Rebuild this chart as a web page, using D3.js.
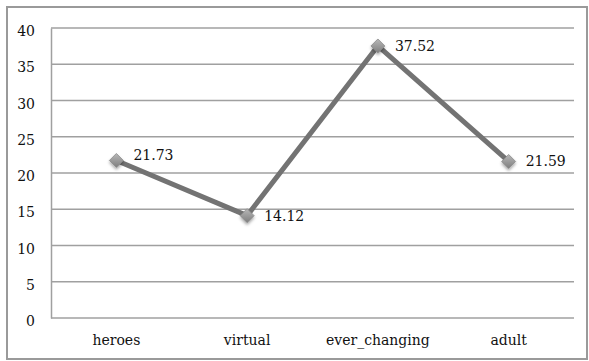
<!DOCTYPE html>
<html>
<head>
<meta charset="utf-8">
<script src="https://cdn.jsdelivr.net/npm/d3@7"></script>
<style>
  html, body { margin: 0; padding: 0; background: #fff; }
  svg { display: block; }
  text { font-family: "DejaVu Serif", "Liberation Serif", serif; fill: #111; }
</style>
</head>
<body>
<svg id="chart" width="589" height="361"></svg>
<script>
// Chart data
const categories = ["heroes", "virtual", "ever_changing", "adult"];
const values = [21.73, 14.12, 37.52, 21.59];
const yTicks = [0, 5, 10, 15, 20, 25, 30, 35, 40];

const W = 589, H = 361;
const margin = { left: 51, right: 15, top: 28, bottom: 43 };
const fontSize = 14;

const svg = d3.select("#chart");

// Outer frame
svg.append("rect")
  .attr("x", 7).attr("y", 7)
  .attr("width", W - 9).attr("height", H - 9)
  .attr("fill", "#fff")
  .attr("stroke", "#9a9a9a")
  .attr("stroke-width", 2);

const x = d3.scaleBand()
  .domain(categories)
  .range([margin.left, W - margin.right]);

const y = d3.scaleLinear()
  .domain([0, 40])
  .range([H - margin.bottom, margin.top]);

const defs = svg.append("defs");
const grad = defs.append("linearGradient")
  .attr("id", "markerFill")
  .attr("x1", "0").attr("y1", "0").attr("x2", "0").attr("y2", "1");
grad.append("stop").attr("offset", "0%").attr("stop-color", "#b8b8b8");
grad.append("stop").attr("offset", "100%").attr("stop-color", "#7e7e7e");

const shadow = defs.append("filter").attr("id", "softShadow")
  .attr("x", "-50%").attr("y", "-50%").attr("width", "200%").attr("height", "200%");
shadow.append("feDropShadow")
  .attr("dx", 0).attr("dy", 2).attr("stdDeviation", 1.5)
  .attr("flood-color", "#000").attr("flood-opacity", 0.35);

// Horizontal gridlines
svg.append("g")
  .selectAll("line")
  .data(yTicks)
  .join("line")
  .attr("x1", margin.left).attr("x2", W - margin.right)
  .attr("y1", d => y(d)).attr("y2", d => y(d))
  .attr("stroke", "#a0a0a0")
  .attr("stroke-width", 1.5);

// Y axis
const yAxis = svg.append("g")
  .attr("transform", `translate(${margin.left},0)`)
  .call(d3.axisLeft(y).tickValues(yTicks).tickSize(0).tickPadding(16));
yAxis.select(".domain")
  .attr("stroke", "#a0a0a0").attr("stroke-width", 1.5);
yAxis.selectAll("text")
  .attr("font-size", fontSize)
  .attr("dy", "0.55em")
  .style("font-family", "\"DejaVu Serif\", serif")
  .attr("fill", "#111");

// X axis labels
const xAxis = svg.append("g")
  .attr("transform", `translate(0,${H - margin.bottom})`)
  .call(d3.axisBottom(x).tickSize(0).tickPadding(17));
xAxis.select(".domain").remove();
xAxis.selectAll("text")
  .attr("font-size", fontSize)
  .style("font-family", "\"DejaVu Serif\", serif")
  .attr("fill", "#111");

const pts = categories.map((c, i) => ({
  cat: c, v: values[i],
  px: x(c) + x.bandwidth() / 2,
  py: y(values[i])
}));

// Series line
svg.append("path")
  .datum(pts)
  .attr("fill", "none")
  .attr("stroke", "#737373")
  .attr("stroke-width", 5)
  .attr("stroke-linejoin", "round")
  .attr("d", d3.line().x(d => d.px).y(d => d.py));

// Diamond markers
svg.append("g")
  .selectAll("path")
  .data(pts)
  .join("path")
  .attr("transform", d => `translate(${d.px},${d.py})`)
  .attr("d", "M0,-7L7,0L0,7L-7,0Z")
  .attr("fill", "url(#markerFill)")
  .attr("stroke", "#8a8a8a")
  .attr("stroke-width", 0.8)
  .attr("filter", "url(#softShadow)");

// Value labels to the right of each marker; nudged upward when the
// outgoing segment would run through the text.
svg.append("g")
  .selectAll("text")
  .data(pts)
  .join("text")
  .attr("x", d => d.px + 17)
  .attr("y", (d, i) => {
    let dy = 5;
    const next = pts[i + 1];
    if (next) {
      const slope = (next.py - d.py) / (next.px - d.px);
      if (slope > 0.2 && slope < 0.6) dy = 0;
    }
    return d.py + dy;
  })
  .attr("font-size", fontSize)
  .text(d => d.v.toFixed(2));
</script>
</body>
</html>
